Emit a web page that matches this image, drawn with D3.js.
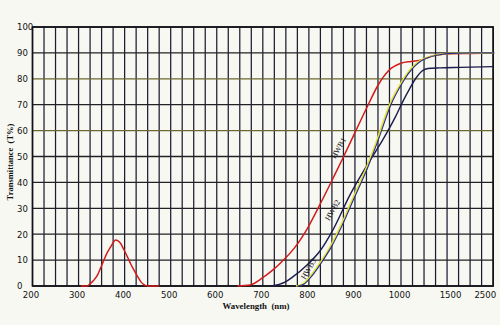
<!DOCTYPE html>
<html>
<head>
<meta charset="utf-8">
<script src="https://cdn.jsdelivr.net/npm/d3@7"></script>
<style>
  html, body { margin: 0; padding: 0; background: #f8f8f3; }
  svg { display: block; }
</style>
</head>
<body>
<svg id="chart" width="500" height="325"></svg>
<script>
// ---- data ----
const xTickValues = [200, 300, 400, 500, 600, 700, 800, 900, 1000, 1500, 2500];
const yTickValues = [0, 10, 20, 30, 40, 50, 60, 70, 80, 90, 100];

const hwb1PeakNm = [305, 318, 325, 333, 341, 348, 355, 362, 370, 376, 380, 385, 391, 398, 406, 413, 420, 428, 435, 442, 450, 475];
const hwb1PeakT  = [0, 0, 0.8, 2.2, 4.2, 7, 10, 12.8, 15.2, 17, 17.8, 17.5, 16.5, 14.2, 11.3, 8.6, 6.2, 3.7, 1.7, 0.5, 0, 0];

const hwb1Nm = [645, 672, 699, 722, 745, 770, 796, 829, 853, 875, 901, 927, 951, 974, 1000, 1098, 1203, 1314, 1412, 1500, 1937, 2500];
const hwb1T  = [0, 0.4, 3.1, 6.2, 10, 15, 22, 33.2, 41.8, 49.8, 59.6, 69.3, 77.8, 83.3, 86, 86.7, 87.3, 88.9, 89.5, 89.7, 89.8, 90];

const hwb2Nm = [718, 748, 765, 796, 824, 852, 889, 928, 960, 987, 1020, 1088, 1147, 1206, 1265, 1382, 1694, 2500];
const hwb2T  = [0, 1.5, 3.5, 8.1, 13.5, 21.6, 35.1, 47.1, 56.3, 65, 71.4, 76.4, 80.3, 83, 84, 84.2, 84.4, 84.7];

const hwb3Nm = [772, 787, 802, 824, 846, 870, 889, 928, 947, 976, 1000, 1059, 1118, 1176, 1235, 1353, 1480, 1937, 2500];
const hwb3T  = [0, 0.8, 3.5, 8.9, 15.1, 23.6, 31.3, 47.1, 56, 70.3, 78.4, 82, 84.7, 86.7, 87.9, 89.2, 89.8, 90, 90];

const curveLabels = ["HWB1", "HWB2", "HWB3"];
const labelNm = [864, 851, 799];   // where each label sits
const labelT  = [53.3, 29.3, 6.6];

// ---- layout ----
const svg = d3.select("#chart");
const L = 32.5, R = 493.2, T = 27, B = 286;

const x = d3.scaleLinear()
  .domain([200, 1000, 1500, 2500])
  .range([L, 401, 452, R]);
const y = d3.scaleLinear().domain([0, 100]).range([B, T]);

// vertical grid: every 25 nm up to 1000, then equal steps in the compressed part
const gridNm = d3.range(200, 1001, 25);
const step = (x(1000) - x(200)) / 32;
for (let k = 1; k <= 8; k++) gridNm.push(x.invert(x(1000) + k * step));

const grid = svg.append("g");
grid.selectAll("line.v").data(gridNm).join("line")
  .attr("class", "v")
  .attr("x1", d => x(d)).attr("x2", d => x(d))
  .attr("y1", T).attr("y2", B)
  .attr("stroke", "#1c1e30").attr("stroke-width", 1.25);

grid.selectAll("line.h").data(yTickValues).join("line")
  .attr("class", "h")
  .attr("x1", L).attr("x2", R)
  .attr("y1", d => y(d)).attr("y2", d => y(d))
  .attr("stroke", d => (d === 80 || d === 60) ? "#6a6830" : "#222226")
  .attr("stroke-width", 1.3);

// frame
svg.append("rect")
  .attr("x", L).attr("y", T).attr("width", R - L).attr("height", B - T)
  .attr("fill", "none").attr("stroke", "#111118").attr("stroke-width", 1.6);

// ---- curves ----
const line = d3.line().x(d => x(d[0])).y(d => y(d[1])).curve(d3.curveMonotoneX);
const zip = (a, b) => a.map((v, i) => [v, b[i]]);

const curves = svg.append("g").attr("fill", "none").attr("stroke-linejoin", "round");
curves.append("path").attr("d", line(zip(hwb1PeakNm, hwb1PeakT)))
  .attr("stroke", "#d21c1c").attr("stroke-width", 1.5);
curves.append("path").attr("d", line(zip(hwb1Nm, hwb1T)))
  .attr("stroke", "#d21c1c").attr("stroke-width", 1.5);
curves.append("path").attr("d", line(zip(hwb2Nm, hwb2T)))
  .attr("stroke", "#1b1b4e").attr("stroke-width", 1.4);
curves.append("path").attr("d", line(zip(hwb3Nm, hwb3T)))
  .attr("stroke", "#e8e02a").attr("stroke-width", 1.6);
curves.append("path").attr("d", line(zip(hwb3Nm, hwb3T)))
  .attr("transform", "translate(1.3,0)")
  .attr("stroke", "#22308a").attr("stroke-width", 1.1);

// curve labels
svg.append("g").selectAll("text").data(curveLabels).join("text")
  .attr("transform", (d, i) => `translate(${x(labelNm[i])},${y(labelT[i])}) rotate(-60)`)
  .attr("text-anchor", "middle").attr("dy", "0.35em")
  .attr("font-family", "'Liberation Serif', 'DejaVu Serif', serif")
  .attr("font-size", 8).attr("fill", "#111")
  .text(d => d);

// ---- axes text ----
const tickFont = "'Liberation Sans Narrow', 'DejaVu Sans Condensed', 'Liberation Sans', sans-serif";
svg.append("g").selectAll("text").data(xTickValues).join("text")
  .attr("x", d => d === 2500 ? x(d) + 3 : x(d) - 1.5)
  .attr("y", 298)
  .attr("text-anchor", d => d === 2500 ? "end" : "middle")
  .attr("font-family", tickFont).attr("font-size", 9.5).attr("fill", "#111")
  .text(d => d);

svg.append("g").selectAll("text").data(yTickValues).join("text")
  .attr("x", 17).attr("y", d => y(d)).attr("dy", "0.35em")
  .attr("text-anchor", "start")
  .attr("font-family", tickFont).attr("font-size", 9.5).attr("fill", "#111")
  .text(d => d);

svg.append("text")
  .attr("x", 256).attr("y", 309).attr("text-anchor", "middle")
  .attr("font-family", "'Liberation Serif', 'DejaVu Serif', serif")
  .attr("font-weight", "bold").attr("font-size", 8.8).attr("fill", "#111")
  .attr("xml:space", "preserve")
  .text("Wavelength  (nm)");

svg.append("text")
  .attr("transform", "translate(12.5,162) rotate(-90)")
  .attr("text-anchor", "middle")
  .attr("font-family", "'Liberation Serif', 'DejaVu Serif', serif")
  .attr("font-weight", "bold").attr("font-size", 8.5).attr("fill", "#111")
  .attr("xml:space", "preserve")
  .text("Transmittance  (T%)");
</script>
</body>
</html>
